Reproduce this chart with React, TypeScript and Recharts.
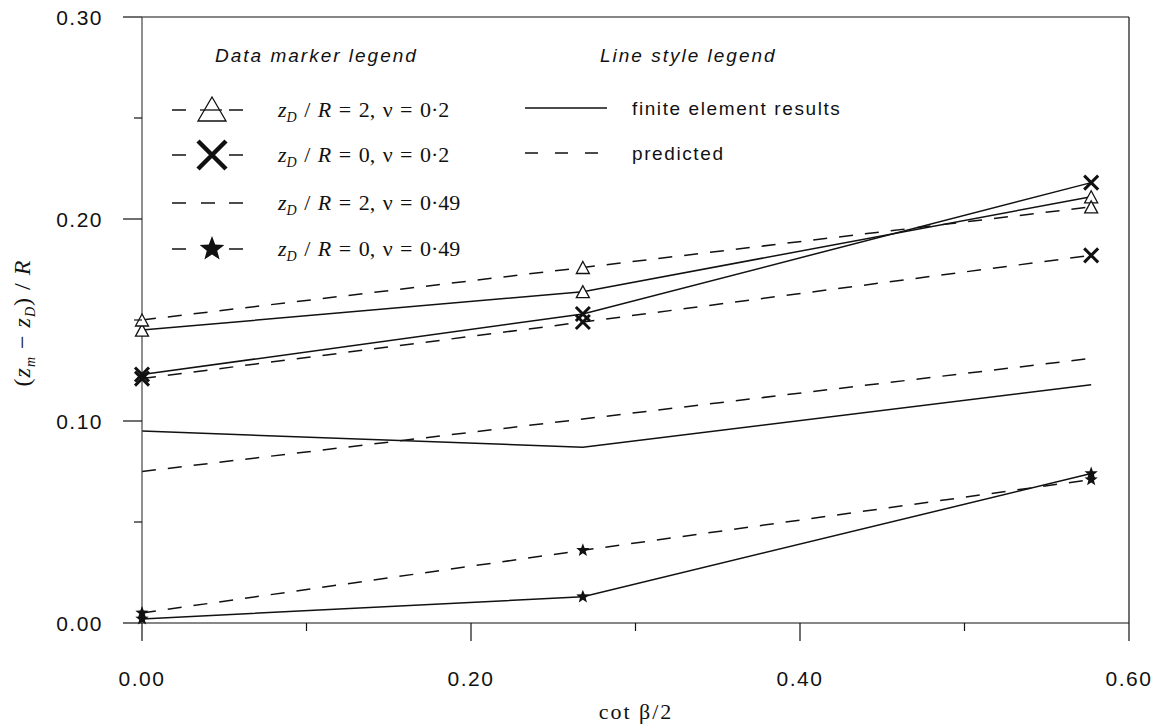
import React from 'react';
import { Line, LineChart, XAxis, YAxis } from 'recharts';

// cot(beta/2) at the three cone angles
const xValues = [0, 0.268, 0.577];

// (z_m - z_D) / R, finite element (solid) and predicted (dashed)
const triFE = [0.145, 0.164, 0.211];
const triPred = [0.15, 0.176, 0.206];
const crossFE = [0.123, 0.153, 0.218];
const crossPred = [0.121, 0.149, 0.182];
const plainFE = [0.095, 0.087, 0.118];
const plainPred = [0.075, 0.101, 0.131];
const starFE = [0.002, 0.013, 0.074];
const starPred = [0.005, 0.036, 0.071];

const xTicks = [0, 0.1, 0.2, 0.3, 0.4, 0.5, 0.6];
const xLabelTicks = [0, 0.2, 0.4, 0.6];
const yTicks = [0, 0.05, 0.1, 0.15, 0.2, 0.25, 0.3];
const yLabelTicks = [0, 0.1, 0.2, 0.3];

const toPoints = (ys: number[]) => ys.map((y, i) => ({ x: xValues[i], y }));

const INK = '#111';
const SANS = '"Liberation Sans", Arial, sans-serif';
const SERIF = '"Liberation Serif", "Times New Roman", serif';
const DASH = '14 12';

const isLabelled = (list: number[], v: number) => list.some((t) => Math.abs(t - v) < 1e-6);

function trianglePath(cx: number, cy: number, w: number, h: number) {
  return `M${cx},${cy - h / 2} L${cx + w / 2},${cy + h / 2} L${cx - w / 2},${cy + h / 2} Z`;
}

function starPath(cx: number, cy: number, r: number) {
  const pts: string[] = [];
  for (let i = 0; i < 10; i++) {
    const rr = i % 2 === 0 ? r : r * 0.42;
    const a = -Math.PI / 2 + (i * Math.PI) / 5;
    pts.push(`${cx + rr * Math.cos(a)},${cy + rr * Math.sin(a)}`);
  }
  return `M${pts.join(' L')} Z`;
}

const TriangleDot = (p: any) => (
  <path key={`t${p.index}`} d={trianglePath(p.cx, p.cy, 13, 12)} fill="#fff" stroke={INK} strokeWidth={1.3} />
);

const CrossDot = (p: any) => (
  <path
    key={`c${p.index}`}
    d={`M${p.cx - 7},${p.cy - 7} L${p.cx + 7},${p.cy + 7} M${p.cx + 7},${p.cy - 7} L${p.cx - 7},${p.cy + 7}`}
    stroke={INK}
    strokeWidth={3}
  />
);

const StarDot = (p: any) => <path key={`s${p.index}`} d={starPath(p.cx, p.cy, 7)} fill={INK} />;

const BottomTick = (p: any) => {
  const v = p.payload.value;
  const major = isLabelled(xLabelTicks, v);
  return (
    <g>
      <line x1={p.x} y1={p.y} x2={p.x} y2={p.y + (major ? 18 : 8)} stroke={INK} strokeWidth={1.2} />
      {major && (
        <text x={p.x} y={p.y + 63} textAnchor="middle" fontFamily={SANS} fontSize={21} letterSpacing={1.5} fill={INK}>
          {v.toFixed(2)}
        </text>
      )}
    </g>
  );
};

const TopTick = (p: any) => {
  const major = isLabelled(xLabelTicks, p.payload.value);
  return <line x1={p.x} y1={p.y} x2={p.x} y2={p.y + (major ? 18 : 8)} stroke={INK} strokeWidth={1.2} />;
};

const LeftTick = (p: any) => {
  const v = p.payload.value;
  const major = isLabelled(yLabelTicks, v);
  return (
    <g>
      <line x1={p.x - (major ? 19 : 8)} y1={p.y} x2={p.x} y2={p.y} stroke={INK} strokeWidth={1.2} />
      {major && (
        <text x={p.x - 39} y={p.y + 8} textAnchor="end" fontFamily={SANS} fontSize={21} letterSpacing={1.5} fill={INK}>
          {v.toFixed(2)}
        </text>
      )}
    </g>
  );
};

const RightTick = (p: any) => {
  const major = isLabelled(yLabelTicks, p.payload.value);
  return <line x1={p.x - (major ? 20 : 10)} y1={p.y} x2={p.x} y2={p.y} stroke={INK} strokeWidth={1.2} />;
};

function MathLabel({ x, y, top, nu }: { x: number; y: number; top: string; nu: string }) {
  return (
    <text x={x} y={y} fontFamily={SERIF} fontSize={22} fill={INK} wordSpacing={2}>
      <tspan fontStyle="italic">z</tspan>
      <tspan fontStyle="italic" fontSize={14} dy={5}>D</tspan>
      <tspan dy={-5}> / </tspan>
      <tspan fontStyle="italic">R</tspan>
      <tspan>{` = ${top}, \u03bd = ${nu}`}</tspan>
    </text>
  );
}

function Legends() {
  const rows = [110, 155, 203, 249];
  return (
    <svg width={1163} height={724} style={{ position: 'absolute', left: 0, top: 0, pointerEvents: 'none' }}>
      <text x={215} y={62} fontFamily={SANS} fontStyle="italic" fontSize={19} letterSpacing={2} fill={INK}>
        Data marker legend
      </text>
      <text x={600} y={62} fontFamily={SANS} fontStyle="italic" fontSize={19} letterSpacing={2} fill={INK}>
        Line style legend
      </text>

      {rows.map((y, i) => (
        <g key={i}>
          <line x1={172} x2={186} y1={y} y2={y} stroke={INK} strokeWidth={1.5} />
          <line x1={229} x2={243} y1={y} y2={y} stroke={INK} strokeWidth={1.5} />
        </g>
      ))}
      <path d={trianglePath(212, rows[0] - 1, 28, 24)} fill="#fff" stroke={INK} strokeWidth={1.3} />
      <line x1={200} x2={222} y1={rows[0]} y2={rows[0]} stroke={INK} strokeWidth={1.3} />
      <path
        d={`M${198},${rows[1] - 14} L${226},${rows[1] + 14} M${226},${rows[1] - 14} L${198},${rows[1] + 14}`}
        stroke={INK}
        strokeWidth={4.5}
      />
      <line x1={201} x2={215} y1={rows[2]} y2={rows[2]} stroke={INK} strokeWidth={1.5} />
      <path d={starPath(212, rows[3], 13)} fill={INK} />

      <MathLabel x={278} y={rows[0] + 7} top="2" nu="0·2" />
      <MathLabel x={278} y={rows[1] + 7} top="0" nu="0·2" />
      <MathLabel x={278} y={rows[2] + 7} top="2" nu="0·49" />
      <MathLabel x={278} y={rows[3] + 7} top="0" nu="0·49" />

      <line x1={525} x2={607} y1={108} y2={108} stroke={INK} strokeWidth={1.6} />
      <line x1={525} x2={600} y1={153} y2={153} stroke={INK} strokeWidth={1.6} strokeDasharray="13 17" />
      <text x={632} y={115} fontFamily={SANS} fontSize={19} letterSpacing={1.6} fill={INK}>
        finite element results
      </text>
      <text x={632} y={160} fontFamily={SANS} fontSize={19} letterSpacing={1.6} fill={INK}>
        predicted
      </text>

      <text x={636} y={719} textAnchor="middle" fontFamily={SERIF} fontSize={22} letterSpacing={2} fill={INK}>
        cot β/2
      </text>
      <text
        transform="translate(30,323) rotate(-90)"
        textAnchor="middle"
        fontFamily={SERIF}
        fontSize={24}
        letterSpacing={1}
        fill={INK}
      >
        <tspan>(</tspan>
        <tspan fontStyle="italic">z</tspan>
        <tspan fontStyle="italic" fontSize={14} dy={5}>m</tspan>
        <tspan dy={-5}> − </tspan>
        <tspan fontStyle="italic">z</tspan>
        <tspan fontStyle="italic" fontSize={14} dy={5}>D</tspan>
        <tspan dy={-5}>) / </tspan>
        <tspan fontStyle="italic">R</tspan>
      </text>
    </svg>
  );
}

export default function App() {
  const common = {
    xAxisId: 'bottom',
    yAxisId: 'left',
    dataKey: 'y',
    stroke: INK,
    strokeWidth: 1.5,
    isAnimationActive: false,
    type: 'linear' as const,
  };
  return (
    <div style={{ position: 'absolute', left: 0, top: 0, width: 1163, height: 724, background: '#fff' }}>
      <LineChart width={1163} height={724} margin={{ top: 0, right: 0, bottom: 0, left: 0 }}>
        <XAxis
          xAxisId="bottom"
          orientation="bottom"
          type="number"
          dataKey="x"
          domain={[0, 0.6]}
          ticks={xTicks}
          interval={0}
          height={101}
          tickSize={0}
          tickMargin={0}
          tickLine={false}
          tick={BottomTick}
          axisLine={{ stroke: INK, strokeWidth: 1.2 }}
        />
        <XAxis
          xAxisId="top"
          orientation="top"
          type="number"
          dataKey="x"
          domain={[0, 0.6]}
          ticks={xTicks}
          interval={0}
          height={17}
          tickSize={0}
          tickMargin={0}
          tickLine={false}
          tick={TopTick}
          axisLine={{ stroke: INK, strokeWidth: 1.2 }}
        />
        <YAxis
          yAxisId="left"
          orientation="left"
          type="number"
          domain={[0, 0.3]}
          ticks={yTicks}
          interval={0}
          width={142}
          tickSize={0}
          tickMargin={0}
          tickLine={false}
          tick={LeftTick}
          axisLine={{ stroke: '#444', strokeWidth: 1.2 }}
        />
        <YAxis
          yAxisId="right"
          orientation="right"
          type="number"
          domain={[0, 0.3]}
          ticks={yTicks}
          interval={0}
          width={34}
          tickSize={0}
          tickMargin={0}
          tickLine={false}
          tick={RightTick}
          axisLine={{ stroke: INK, strokeWidth: 1.2 }}
        />

        <Line {...common} data={toPoints(plainFE)} dot={false} />
        <Line {...common} data={toPoints(plainPred)} strokeDasharray={DASH} dot={false} />
        <Line {...common} data={toPoints(triFE)} dot={TriangleDot} />
        <Line {...common} data={toPoints(triPred)} strokeDasharray={DASH} dot={TriangleDot} />
        <Line {...common} data={toPoints(crossFE)} dot={CrossDot} />
        <Line {...common} data={toPoints(crossPred)} strokeDasharray={DASH} dot={CrossDot} />
        <Line {...common} data={toPoints(starFE)} dot={StarDot} />
        <Line {...common} data={toPoints(starPred)} strokeDasharray={DASH} dot={StarDot} />
      </LineChart>
      <Legends />
    </div>
  );
}
